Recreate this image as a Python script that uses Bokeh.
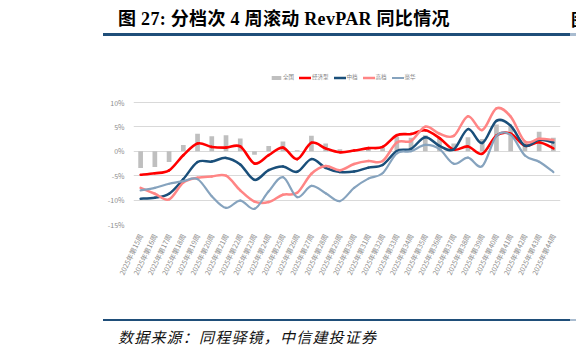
import math
from bokeh.plotting import figure
from bokeh.models import Range1d, FixedTicker, PrintfTickFormatter, Legend, LegendItem, Div
from bokeh.layouts import column
from bokeh.embed import file_html
from bokeh.resources import INLINE

weeks = ["2025年第15周", "2025年第16周", "2025年第17周", "2025年第18周", "2025年第19周",
         "2025年第20周", "2025年第21周", "2025年第22周", "2025年第23周", "2025年第24周",
         "2025年第25周", "2025年第26周", "2025年第27周", "2025年第28周", "2025年第29周",
         "2025年第30周", "2025年第31周", "2025年第32周", "2025年第33周", "2025年第34周",
         "2025年第35周", "2025年第36周", "2025年第37周", "2025年第38周", "2025年第39周",
         "2025年第40周", "2025年第41周", "2025年第42周", "2025年第43周", "2025年第44周"]

national = [-3.4, -3.2, -2.2, 1.3, 3.6, 3.1, 3.3, 2.6, -0.7, 1.1, 2.0, 0.2, 3.2, 1.6, 0.4,
            0.3, 0.5, 0.8, 3.0, 2.8, 3.3, 2.8, 1.6, 2.9, 2.5, 5.5, 5.1, 1.8, 4.0, 2.8]
economy = [-4.8, -4.5, -3.9, -0.8, 1.6, 0.9, 0.75, 1.0, -2.5, -0.8, 0.75, -1.6, 1.75, 0.6, -0.2,
           0.15, 0.65, 0.9, 3.3, 3.55, 4.3, 2.7, 0.35, 1.0, -0.5, 3.25, 3.6, 1.15, 1.85, 0.6]
midscale = [-9.7, -9.5, -8.7, -5.7, -2.2, -2.1, -1.35, -2.7, -5.85, -3.85, -3.1, -4.2, -1.6, -3.4, -4.25,
            -4.15, -3.35, -2.8, 0.05, 0.5, 2.9, 1.1, 0.4, 4.55, 1.7, 6.25, 5.25, 1.15, 2.35, 1.8]
upscale = [-7.5, -8.7, -9.85, -6.4, -5.4, -5.15, -5.0, -8.0, -10.3, -10.4, -8.9, -8.5, -4.6, -3.0, -3.9,
           -2.6, -2.0, -2.0, 1.8, 2.1, 5.05, 3.6, 3.15, 7.2, 4.35, 8.8, 7.1, 2.0, 2.55, 2.3]
luxury = [-8.0, -7.5, -6.65, -6.1, -5.7, -9.2, -11.6, -10.1, -11.8, -8.2, -5.3, -9.4, -7.1, -8.6, -10.2,
          -7.5, -5.6, -4.5, -0.4, 0.0, 1.3, 0.45, -2.55, -1.3, -3.05, 3.15, 3.35, -0.85, -2.15, -4.25]

series_names = ["全国", "经济型", "中档", "高档", "豪华"]
y_ticks = [-15, -10, -5, 0, 5, 10]

CJK = "Noto Sans CJK SC"
idx = list(range(len(weeks)))

p = figure(frame_width=427, frame_height=156,
           min_border_left=133, min_border_right=16, min_border_top=20, min_border_bottom=76,
           x_range=Range1d(-0.5, len(weeks) - 0.5), y_range=Range1d(-15, 16.97),
           output_backend="svg", toolbar_location=None,
           outline_line_color=None, background_fill_color="white", border_fill_color="white")

# axes
p.xaxis.ticker = FixedTicker(ticks=idx)
p.xaxis.major_label_overrides = {i: w for i, w in enumerate(weeks)}
p.xaxis.major_label_orientation = math.radians(64)
p.xaxis.axis_line_color = None
p.xaxis.major_tick_line_color = None
p.xaxis.minor_tick_line_color = None
p.xaxis.major_label_text_font = CJK
p.xaxis.major_label_text_font_size = "7px"
p.xaxis.major_label_text_color = "#8C8C8C"
p.xaxis.major_label_standoff = 4

p.yaxis.ticker = FixedTicker(ticks=y_ticks)
p.yaxis.formatter = PrintfTickFormatter(format="%d%%")
p.yaxis.axis_line_color = None
p.yaxis.major_tick_line_color = None
p.yaxis.minor_tick_line_color = None
p.yaxis.major_label_text_font = CJK
p.yaxis.major_label_text_font_size = "7px"
p.yaxis.major_label_text_color = "#8C8C8C"
p.yaxis.major_label_standoff = 3

p.xgrid.grid_line_color = None
p.ygrid.ticker = FixedTicker(ticks=y_ticks)
p.ygrid.grid_line_color = "#D9D9D9"
p.ygrid.grid_line_width = 1

bars = p.vbar(x=idx, top=national, bottom=0, width=0.33, fill_color="#BFBFBF", line_color=None)


def smooth(vals):
    n = len(vals)
    x0, y0, x1, y1, cx0, cy0, cx1, cy1 = [], [], [], [], [], [], [], []
    for k in range(n - 1):
        pk = k - 1 if k > 0 else k
        nk = k + 2 if k + 2 < n else k + 1
        x0.append(k); y0.append(vals[k])
        x1.append(k + 1); y1.append(vals[k + 1])
        cx0.append(k + (k + 1 - pk) / 6.0)
        cy0.append(vals[k] + (vals[k + 1] - vals[pk]) / 6.0)
        cx1.append(k + 1 - (nk - k) / 6.0)
        cy1.append(vals[k + 1] - (vals[nk] - vals[k]) / 6.0)
    return dict(x0=x0, y0=y0, x1=x1, y1=y1, cx0=cx0, cy0=cy0, cx1=cx1, cy1=cy1)


line_specs = [(economy, "#FF0000", 2.6), (midscale, "#1A4F7A", 2.5),
              (upscale, "#FF8585", 2.5), (luxury, "#86A3BE", 2.2)]
renderers = [bars]
for vals, col, lw in line_specs:
    r = p.bezier(source=smooth(vals), x0="x0", y0="y0", x1="x1", y1="y1",
                 cx0="cx0", cy0="cy0", cx1="cx1", cy1="cy1",
                 line_color=col, line_width=lw, line_cap="round")
    renderers.append(r)

legend = Legend(items=[LegendItem(label=n, renderers=[r]) for n, r in zip(series_names, renderers)],
                orientation="horizontal", location=(137, 143),
                label_text_font=CJK, label_text_font_size="5.5px", label_text_color="#7F7F7F",
                glyph_width=12, glyph_height=5, label_standoff=1, spacing=5,
                padding=0, margin=0, border_line_color=None, background_fill_alpha=0,
                label_height=6, label_width=4)
p.add_layout(legend)

title_html = (
    '<div style="position:relative;width:576px;height:48px;overflow:hidden;">'
    '<div style="position:absolute;left:118px;top:7px;font-family:\'Liberation Serif\',\'Noto Sans CJK SC\';'
    'font-size:18px;font-weight:bold;color:#000;white-space:nowrap;letter-spacing:0.3px;">'
    '图 27: 分档次 4 周滚动 RevPAR 同比情况</div>'
    '<div style="position:absolute;left:571px;top:7px;font-family:\'Noto Sans CJK SC\';'
    'font-size:17px;font-weight:bold;color:#000;white-space:nowrap;">图</div>'
    '<div style="position:absolute;left:103px;top:33px;width:467px;height:3px;background:#1F4E79;"></div>'
    '<div style="position:absolute;left:570px;top:33px;width:6px;height:3px;background:#A9BCD0;"></div>'
    '</div>'
)
foot_html = (
    '<div style="position:relative;width:576px;height:55px;overflow:hidden;">'
    '<div style="position:absolute;left:103px;top:19px;width:467px;height:2px;background:#1F4E79;"></div>'
    '<div style="position:absolute;left:570px;top:19px;width:6px;height:2px;background:#A9BCD0;"></div>'
    '<div style="position:absolute;left:118px;top:26px;font-family:\'Noto Sans CJK SC\';font-style:italic;'
    'font-size:15px;letter-spacing:1.2px;color:#111;white-space:nowrap;">数据来源：同程驿镜，中信建投证券</div>'
    '<div style="position:absolute;left:577px;top:26px;font-family:\'Noto Sans CJK SC\';'
    'font-size:15px;color:#111;white-space:nowrap;">数</div>'
    '</div>'
)
title_div = Div(text=title_html, width=576, height=48, margin=0)
foot_div = Div(text=foot_html, width=576, height=55, margin=0)

layout = column(title_div, p, foot_div, spacing=0)
open("out.html", "w").write(file_html(layout, INLINE))
